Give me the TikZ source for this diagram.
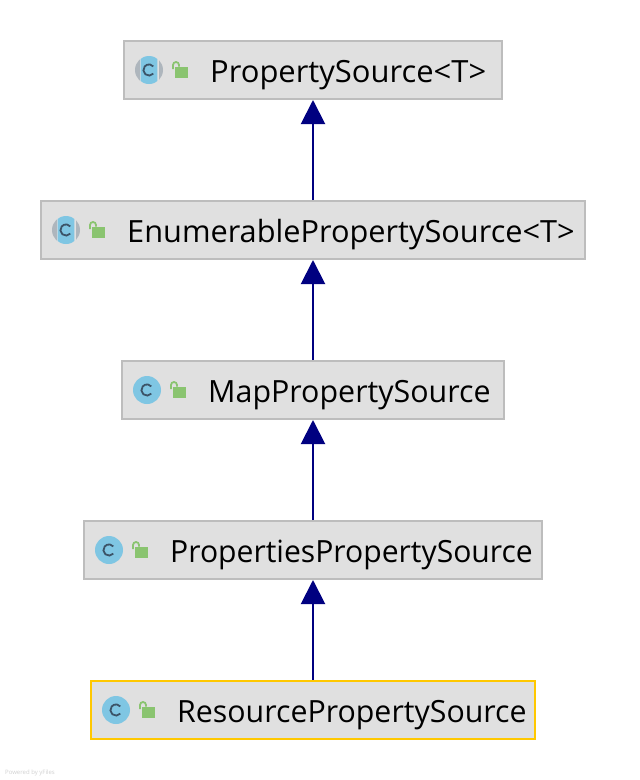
\documentclass[tikz,border=0pt]{standalone}
\usepackage{fontspec}
\setmainfont{Open Sans}
\usetikzlibrary{arrows.meta}
\definecolor{boxfill}{HTML}{E0E0E0}
\definecolor{boxline}{HTML}{BDBDBD}
\definecolor{sel}{HTML}{FFC800}
\definecolor{iconblue}{HTML}{7FC6E3}
\definecolor{icongrey}{HTML}{AEB6BD}
\definecolor{iconink}{HTML}{3C5468}
\definecolor{lockgreen}{HTML}{8AC470}
\definecolor{edgeblue}{HTML}{000080}
\tikzset{
  x=1pt,y=-1pt,
  classbox/.style={draw=boxline,fill=boxfill,line width=2pt,inner sep=0pt,minimum height=58pt,anchor=center},
  selbox/.style={classbox,draw=sel,line width=2.3pt},
  lbl/.style={anchor=base west,inner sep=0pt,font=\fontsize{30.6}{34}\selectfont,text=black},
  inherit/.style={draw=edgeblue,line width=2pt,-{Triangle[length=24pt,width=24pt,fill=edgeblue]}}
}
\newcommand{\lockicon}[2]{%
  \fill[lockgreen] ({#1+25.5},{#2-3}) rectangle ({#1+38.5},{#2+7.5});
  \draw[lockgreen,line width=1.8pt] ({#1+24},{#2-1}) -- ({#1+24},{#2-5}) arc[start angle=180,end angle=360,radius=3] -- ({#1+30},{#2-3.5});}
\newcommand{\cglyph}[2]{%
  \draw[iconink,line width=1.8pt] ({#1+4.3},{#2+3.6}) arc[start angle=40,end angle=320,radius=5.6];}
% #1 icon centre x, #2 centre y
\newcommand{\plainicon}[2]{%
  \fill[iconblue] (#1,#2) circle[radius=14];
  \cglyph{#1}{#2}%
  \lockicon{#1}{#2}}
\newcommand{\abstracticon}[2]{%
  \fill[icongrey] (#1,#2) circle[radius=14];
  \fill[boxfill] ({#1-9.5},{#2-15}) rectangle ({#1+9.5},{#2+15});
  \begin{scope}
    \clip ({#1-8.3},{#2-15}) rectangle ({#1+8.3},{#2+15});
    \fill[iconblue] (#1,#2) circle[radius=14];
  \end{scope}
  \cglyph{#1}{#2}%
  \lockicon{#1}{#2}}
\begin{document}
\begin{tikzpicture}
\useasboundingbox (0,0) rectangle (640,780);
\fill[white] (0,0) rectangle (640,780);
\node[classbox,minimum width=378pt] (ps) at (313,70) {};
\node[classbox,minimum width=544pt] (eps) at (313,230) {};
\node[classbox,minimum width=382pt] (mps) at (313,390) {};
\node[classbox,minimum width=458pt] (pps) at (313,550) {};
\node[selbox,minimum width=444pt] (rps) at (313,710) {};
\draw[inherit] (eps.north) -- (ps.south);
\draw[inherit] (mps.north) -- (eps.south);
\draw[inherit] (pps.north) -- (mps.south);
\draw[inherit] (rps.north) -- (pps.south);
\abstracticon{149}{70}
\abstracticon{66}{230}
\plainicon{147}{390}
\plainicon{109}{550}
\plainicon{116}{710}
\node[lbl] (t1) at (210,82) {\scalebox{1.011}[1]{PropertySource<T>}};
\node[lbl] (t2) at (127,242) {\scalebox{1.004}[1]{EnumerablePropertySource<T>}};
\node[lbl] (t3) at (208,402) {\scalebox{0.993}[1]{MapPropertySource}};
\node[lbl] (t4) at (170,562) {\scalebox{0.984}[1]{PropertiesPropertySource}};
\node[lbl] (t5) at (177,722) {\scalebox{0.991}[1]{ResourcePropertySource}};
\node[anchor=base west,inner sep=0pt,font=\fontsize{6}{7}\selectfont,text=black!18] (yf) at (5,774) {Powered by yFiles};
\end{tikzpicture}
\end{document}
